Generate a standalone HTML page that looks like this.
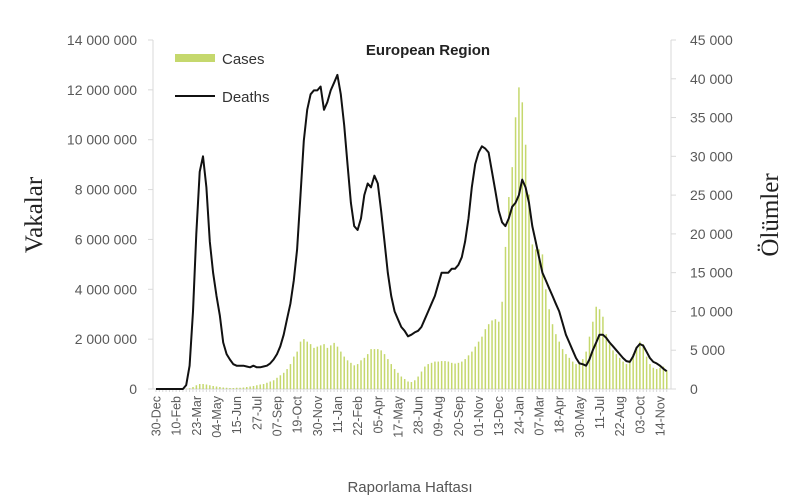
<!DOCTYPE html>
<html><head><meta charset="utf-8"><style>
body{margin:0;background:#fff;}
svg text{font-family:"Liberation Sans",sans-serif;}
</style></head><body>
<svg id="chart" width="794" height="498" xmlns="http://www.w3.org/2000/svg">
<text x="428" y="55" text-anchor="middle" font-size="15" font-weight="bold" fill="#222">European Region</text>
<text transform="translate(42,215) rotate(-90)" text-anchor="middle" font-size="25" fill="#222" style="font-family:'Liberation Serif',serif">Vakalar</text>
<text transform="translate(778,215) rotate(-90)" text-anchor="middle" font-size="25" fill="#222" style="font-family:'Liberation Serif',serif">Ölümler</text>
<text x="410" y="492" text-anchor="middle" font-size="15" fill="#555">Raporlama Haftası</text>
<g>
<rect x="175" y="54" width="40" height="8" fill="#c5d86d"/>
<text x="222" y="64" font-size="15" fill="#333">Cases</text>
<line x1="175" y1="96" x2="215" y2="96" stroke="#111" stroke-width="2"/>
<text x="222" y="102" font-size="15" fill="#333">Deaths</text>
</g>
<g id="axes"></g><g id="bars"></g><g id="lines"></g>
</svg>
<script>
const xLabels=["30-Dec","10-Feb","23-Mar","04-May","15-Jun","27-Jul","07-Sep","19-Oct","30-Nov","11-Jan","22-Feb","05-Apr","17-May","28-Jun","09-Aug","20-Sep","01-Nov","13-Dec","24-Jan","07-Mar","18-Apr","30-May","11-Jul","22-Aug","03-Oct","14-Nov"];
const leftTicks=[0,2000000,4000000,6000000,8000000,10000000,12000000,14000000];
const rightTicks=[0,5000,10000,15000,20000,25000,30000,35000,40000,45000];
const casesM=[0,0,0,0,0,0,0,0,0,0.01,
0.03,0.08,0.15,0.2,0.2,0.18,0.15,0.12,0.1,0.08,
0.06,0.05,0.04,0.04,0.05,0.05,0.06,0.08,0.1,0.12,
0.15,0.18,0.2,0.25,0.3,0.35,0.45,0.55,0.65,0.8,
1.0,1.3,1.5,1.9,2.0,1.9,1.8,1.65,1.7,1.75,
1.8,1.65,1.75,1.85,1.7,1.5,1.3,1.15,1.05,0.95,
1.0,1.15,1.25,1.4,1.6,1.6,1.6,1.55,1.4,1.2,
1.0,0.8,0.65,0.5,0.4,0.3,0.28,0.35,0.5,0.7,
0.9,1.0,1.05,1.1,1.1,1.12,1.12,1.1,1.05,1.02,
1.05,1.1,1.2,1.35,1.5,1.7,1.9,2.1,2.4,2.6,
2.75,2.8,2.7,3.5,5.7,7.7,8.9,10.9,12.1,11.5,
9.8,7.8,5.8,5.6,5.6,5.4,4.0,3.2,2.6,2.2,
1.9,1.6,1.4,1.25,1.1,1.0,1.0,1.2,1.5,2.1,
2.7,3.3,3.2,2.9,2.2,1.8,1.55,1.4,1.25,1.1,
1.0,1.1,1.4,1.7,1.9,1.8,1.3,1.0,0.85,0.8,
0.85,0.9,0.75];
const deathsK=[0,0,0,0,0,0,0,0,0,0.5,
3,10,20,28,30,26,19,15,12,9.5,
6,4.5,3.8,3.2,3,3,3,2.9,2.8,3,
2.8,2.8,2.9,3.0,3.3,3.8,4.5,5.5,7,9,
11,14,18,25,32,36,38,38.5,38.5,39,
36,37,38.5,39.5,40.5,38,34,29,24,21,
20.5,22,25,26.5,26,27.5,26.5,23,19,15,
12,10,9,8,7.5,6.8,7,7.3,7.5,8,
9,10,11,12,13.5,15,15,15,15.5,15.5,
16,17,19,22,26,29,30.5,31.3,31,30.5,
28,25.5,23,21.5,21,22,23.5,24,25,27,
26,24,21,19,17,15,14,13,12,11,
10,8.5,7,6,5,4,3.3,3.2,3,3.8,
5,6,7,7,6.6,6,5.5,5,4.5,4,
3.6,3.5,4.2,5.3,5.8,5.6,4.8,4,3.5,3.3,
3,2.6,2.3];
const NS="http://www.w3.org/2000/svg";
const X0=156,DX=3.36,YB=389,YT=40;
const xs=i=>X0+DX*i;
const yL=v=>YB-(YB-YT)*v/14000000;
const yR=v=>YB-(YB-YT)*v/45000;
function mk(tag,attrs,parent){const e=document.createElementNS(NS,tag);for(const k in attrs)e.setAttribute(k,attrs[k]);parent.appendChild(e);return e;}
const ax=document.getElementById('axes');
let l=mk('line',{x1:153,y1:YT,x2:153,y2:YB,stroke:'#d9d9d9'},ax);


l=mk('line',{x1:671,y1:YT,x2:671,y2:YB,stroke:'#d9d9d9'},ax);


l=mk('line',{x1:153,y1:YB,x2:671,y2:YB,stroke:'#d9d9d9'},ax);


leftTicks.forEach(v=>{
  const t=mk('text',{x:137,y:yL(v)+5,'text-anchor':'end','font-size':14,fill:'#595959'},ax);
  t.textContent=v===0?'0':v.toLocaleString('en-US').replace(/,/g,' ');
  
  
  mk('line',{x1:148,y1:yL(v),x2:153,y2:yL(v),stroke:'#d9d9d9'},ax);
});
rightTicks.forEach(v=>{
  const t=mk('text',{x:690,y:yR(v)+5,'font-size':14,fill:'#595959'},ax);
  t.textContent=v===0?'0':v.toLocaleString('en-US').replace(/,/g,' ');
  
  
  mk('line',{x1:671,y1:yR(v),x2:676,y2:yR(v),stroke:'#d9d9d9'},ax);
});
xLabels.forEach((s,k)=>{
  const x=xs(k*6);
  const t=mk('text',{transform:`translate(${x+4.5},396) rotate(-90)`,'text-anchor':'end','font-size':12.5,fill:'#595959'},ax);
  t.textContent=s;
  
  
});
for(let i=0;i<casesM.length;i++){mk('line',{x1:xs(i),y1:YB,x2:xs(i),y2:YB+3,stroke:'#d9d9d9'},ax);}
const bg=document.getElementById('bars');
casesM.forEach((v,i)=>{
  const y=yL(v*1e6);
  const r=mk('rect',{x:xs(i)-0.7,y:y,width:1.5,height:YB-y,fill:'#c5d86d'},bg);
  
  
});
const pts=deathsK.map((v,i)=>xs(i).toFixed(1)+','+yR(v*1000).toFixed(1)).join(' ');
const pl=mk('polyline',{points:pts,fill:'none',stroke:'#111','stroke-width':2,'stroke-linejoin':'round'},document.getElementById('lines'));


</script>
</body></html>
